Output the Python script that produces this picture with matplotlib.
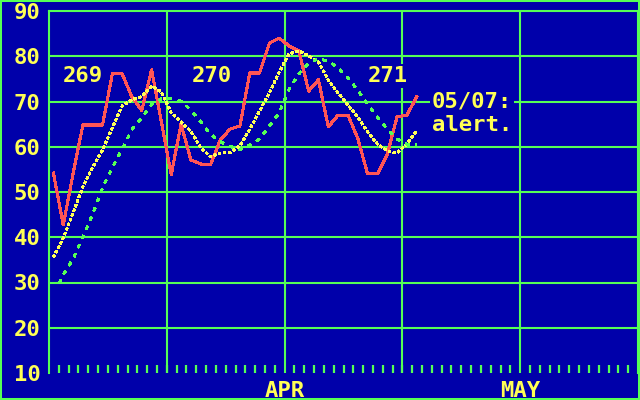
import numpy as np
import matplotlib.pyplot as plt
from matplotlib.patches import Rectangle

# ---------------------------------
# Data (one value per trading day)
# ---------------------------------
price = [54.2, 42.7, 54.0, 64.8, 64.8, 64.8, 76.1, 76.1, 71.0, 68.0,
         77.0, 65.5, 53.8, 65.0, 57.1, 56.2, 56.0, 61.5, 63.9, 64.6,
         76.3, 76.3, 82.9, 84.0, 82.3, 81.2, 72.3, 74.8, 64.4, 67.0,
         67.0, 61.9, 54.0, 54.0, 58.2, 66.6, 67.0, 71.0]

avg_short = [35.6, 39.8, 45.4, 51.1, 55.5, 59.3, 64.2, 69.0, 70.4, 71.1,
             73.4, 72.1, 67.5, 65.5, 63.4, 59.8, 57.8, 58.6, 58.7, 60.2,
             63.9, 67.9, 71.9, 76.5, 80.5, 81.2, 80.1, 78.7, 74.8, 71.9,
             69.2, 66.6, 63.3, 60.6, 59.1, 58.6, 60.6, 63.5]

# long average starts a little after day 0
avg_long_start = 0.6
avg_long = [29.9, 31.7, 35.2, 40.1, 45.1, 50.9, 55.4, 59.5, 63.8, 66.4,
            69.3, 70.6, 70.6, 70.1, 68.1, 65.5, 62.8, 61.1, 60.1, 59.3,
            60.4, 61.7, 64.6, 67.5, 72.7, 76.1, 78.5, 79.5, 78.9, 77.5,
            75.2, 72.5, 69.4, 66.6, 63.9, 61.7, 60.6, 60.4]

y_ticks = [10, 20, 30, 40, 50, 60, 70, 80, 90]
month_labels = ["APR", "MAY"]
month_pos = [24, 48]

cycle_labels = ["269", "270", "271"]
cycle_x = [1.4, 14.55, 32.5]
cycle_y = 75.6

alert_lines = ["05/07:", "alert."]
alert_x = 39.0
alert_y = [70.1, 64.7]

# ---------------------------------
# Style
# ---------------------------------
BLUE = "#0000AA"
GREEN = "#55FF55"
YELLOW = "#FFFF55"
RED = "#FF5555"
DAY_OFFSET = 0.45
FS = 16

plt.rcParams["font.family"] = ["DejaVu Sans Mono"]
plt.rcParams["font.weight"] = "bold"

fig = plt.figure(figsize=(6.4, 4.0), dpi=100, facecolor=BLUE)
ax = fig.add_axes([49 / 640, 27 / 400, 589 / 640, 362 / 400])
ax.set_facecolor(BLUE)
ax.set_xlim(0, 60)
ax.set_ylim(10, 90)

for side in ["left", "top", "right"]:
    ax.spines[side].set_color(GREEN)
    ax.spines[side].set_linewidth(1.5)
ax.spines["bottom"].set_visible(False)

# grid
for v in y_ticks[1:-1]:
    ax.axhline(v, color=GREEN, lw=1.5, zorder=1)
for x in range(12, 60, 12):
    ax.axvline(x, color=GREEN, lw=1.5, zorder=1)

# ticks
ax.set_yticks(y_ticks, [str(v) for v in y_ticks])
ax.tick_params(axis="y", length=0, pad=6, labelcolor=YELLOW, labelsize=FS)
ax.set_xticks(month_pos, month_labels)
ax.set_xticks(np.arange(1, 60), minor=True)
ax.tick_params(axis="x", which="major", length=0, pad=5.5, labelcolor=YELLOW, labelsize=FS)
ax.tick_params(axis="x", which="minor", direction="in", length=6, width=1.6, color=GREEN)

# series
days = np.arange(len(price)) + DAY_OFFSET
long_days = np.r_[avg_long_start, np.arange(1, len(avg_long))] + DAY_OFFSET

ax.plot(days, price, color=RED, lw=1.5, zorder=3, antialiased=False)
ax.plot(days, avg_short, color=YELLOW, lw=1.5, linestyle=(0, (1, 1.3)),
        zorder=3, antialiased=False)
ax.plot(long_days, avg_long, color=GREEN, lw=1.5, linestyle=(0, (1.5, 3)),
        zorder=3, antialiased=False)

# labels
box = dict(boxstyle="square,pad=0.1", fc=BLUE, ec="none")
for lab, x in zip(cycle_labels, cycle_x):
    ax.text(x, cycle_y, lab, color=YELLOW, fontsize=FS, ha="left", va="center",
            bbox=box, zorder=4)
for lab, y in zip(alert_lines, alert_y):
    ax.text(alert_x, y, lab, color=YELLOW, fontsize=FS, ha="left", va="center",
            bbox=box, zorder=4)

# screen border
fig.add_artist(Rectangle((0, 0), 1, 1, transform=fig.transFigure, fill=False,
                         ec=GREEN, lw=2.9, clip_on=False))

fig.savefig("out.png", dpi=100, facecolor=BLUE)
